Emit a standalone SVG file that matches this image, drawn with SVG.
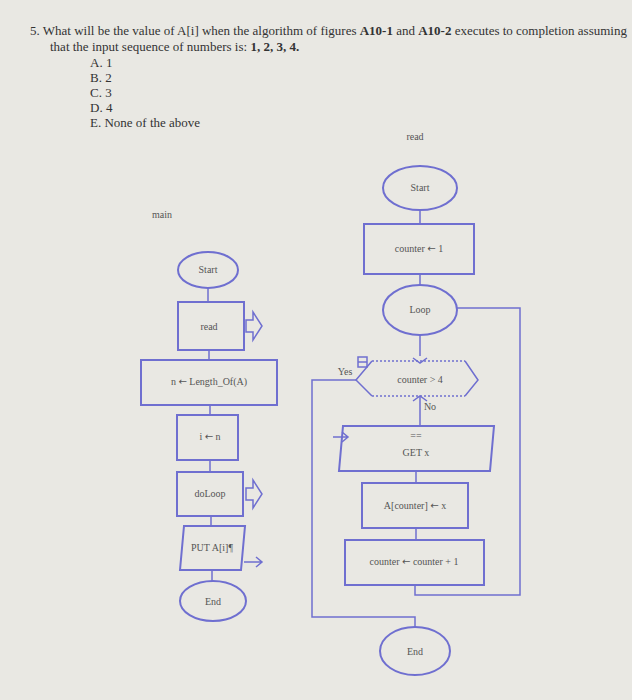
<svg xmlns="http://www.w3.org/2000/svg" width="632" height="700" viewBox="0 0 632 700">
<style>
.s{fill:none;stroke:#6f6fd0;stroke-width:2}
.c{fill:none;stroke:#6f6fd0;stroke-width:1.5}
.t{font-family:"Liberation Serif",serif;fill:#555;font-size:10px;text-anchor:middle}
.q{font-family:"Liberation Serif",serif;fill:#333;font-size:13px}
.a{font-family:"DejaVu Sans",sans-serif}
</style>
<rect width="632" height="700" fill="#e9e8e3"/>
<g id="question">
<text class="q" x="30" y="35">5.  What will be the value of A[i] when the algorithm of figures <tspan font-weight="bold">A10-1</tspan> and <tspan font-weight="bold">A10-2</tspan> executes to completion assuming</text>
<text class="q" x="50" y="51">that the input sequence of numbers is: <tspan font-weight="bold">1, 2, 3, 4.</tspan></text>
<text class="q" x="90" y="67">A. 1</text>
<text class="q" x="90" y="82">B. 2</text>
<text class="q" x="90" y="97">C. 3</text>
<text class="q" x="90" y="112">D. 4</text>
<text class="q" x="90" y="127">E. None of the above</text>
<text class="t" x="162" y="218">main</text>
<text class="t" x="415" y="140">read</text>
</g>
<g id="connectors">
<path class="c" d="M208 288V302M209 350V360M210 405V415M210 460V472M211 516V526M212 570V581"/>
<path class="c" d="M420 210V224M420 274V285M420 335V356M420 396V426M416 471V483M416 528V540"/>
<path class="c" d="M415 585V595H520V308H457"/>
<path class="c" d="M356 380H312V617H415V627"/>
<path class="c" d="M246 320h7v-8l9 14l-9 14v-8h-7z"/>
<path class="c" d="M246 488h7v-8l9 14l-9 14v-8h-7z"/>
<path class="c" d="M244 562H262M256 557L262 562L256 567"/>
<path class="c" d="M333 437H348M342 432L348 437L342 442"/>
<rect class="c" x="358" y="357" width="9" height="10"/>
<path class="c" d="M358 362H367"/>
<text class="t" x="345" y="375" font-size="8">Yes</text>
<text class="t" x="430" y="410" font-size="8">No</text>
</g>
<g id="main-start"><ellipse class="s" cx="208" cy="270" rx="30" ry="18"/><text class="t" x="208" y="273">Start</text></g>
<g id="main-read"><rect class="s" x="178" y="302" width="66" height="48"/><text class="t" x="209" y="330">read</text></g>
<g id="main-len"><rect class="s" x="141" y="360" width="136" height="45"/><text class="t" x="209" y="385">n <tspan class="a">←</tspan> Length_Of(A)</text></g>
<g id="main-i"><rect class="s" x="177" y="415" width="61" height="45"/><text class="t" x="210" y="440">i <tspan class="a">←</tspan> n</text></g>
<g id="main-doloop"><rect class="s" x="177" y="472" width="66" height="44"/><text class="t" x="210" y="497">doLoop</text></g>
<g id="main-put"><path class="s" d="M184 526H245L241 570H180Z"/><text class="t" x="212" y="551">PUT A[i]¶</text></g>
<g id="main-end"><ellipse class="s" cx="213" cy="601" rx="33" ry="20"/><text class="t" x="213" y="605">End</text></g>
<g id="read-start"><ellipse class="s" cx="420" cy="188" rx="37" ry="22"/><text class="t" x="420" y="191">Start</text></g>
<g id="read-init"><rect class="s" x="364" y="224" width="110" height="50"/><text class="t" x="419" y="252">counter <tspan class="a">←</tspan> 1</text></g>
<g id="read-loop"><ellipse class="s" cx="420" cy="310" rx="37" ry="25"/><text class="t" x="420" y="313">Loop</text></g>
<g id="read-decision">
<path class="c" d="M372 361L356 380L372 396M465 361L478 380L465 396M413 358L420 363L427 358M413 401L420 396L427 401"/>
<path class="c" stroke-dasharray="2 2" d="M372 361H465M372 396H465"/>
<text class="t" x="420" y="383">counter &gt; 4</text></g>
<g id="read-get"><path class="s" d="M343 426H494L490 471H339Z"/><text class="t" x="416" y="439" font-size="7">==</text><text class="t" x="416" y="456">GET x</text></g>
<g id="read-assign"><rect class="s" x="362" y="483" width="106" height="45"/><text class="t" x="415" y="509">A[counter] <tspan class="a">←</tspan> x</text></g>
<g id="read-inc"><rect class="s" x="345" y="540" width="139" height="45"/><text class="t" x="414" y="565">counter <tspan class="a">←</tspan> counter  + 1</text></g>
<g id="read-end"><ellipse class="s" cx="415" cy="651" rx="35" ry="24"/><text class="t" x="415" y="655">End</text></g>
</svg>
